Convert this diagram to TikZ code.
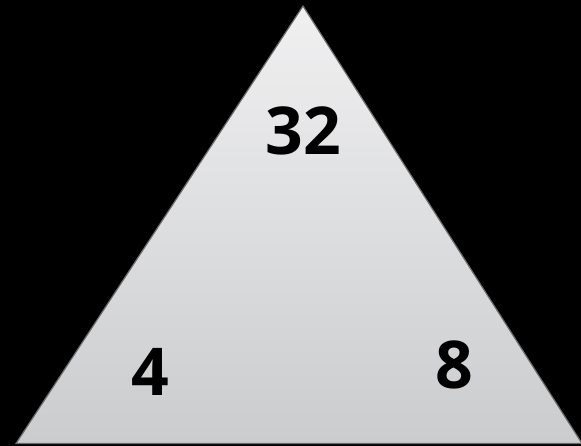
\documentclass[tikz,border=0pt]{standalone}
\usepackage{fontspec}
\setmainfont{Open Sans}
\begin{document}
\begin{tikzpicture}[x=1pt,y=1pt,
  num/.style={font=\bfseries\fontsize{66}{66}\selectfont, text=black, inner sep=0pt, anchor=center}]
  \definecolor{edgegray}{HTML}{6B6B6B}
  \definecolor{topfill}{HTML}{F0F0F1}
  \definecolor{botfill}{HTML}{CBCCCE}
  % black background fixes the page size
  \fill[black] (0,0) rectangle (581,446);
  \useasboundingbox (0,0) rectangle (581,446);
  % the triangle
  \coordinate (apex) at (303,440);
  \coordinate (bl) at (16,2.5);
  \coordinate (br) at (582,2.5);
  \shade[top color=topfill, bottom color=botfill, draw=edgegray, line width=1.2pt, line join=miter]
    (apex) -- (br) -- (bl) -- cycle;
  % the numbers
  \node[num] (top) at (303,315) {32};
  \node[num] (left) at (150,74) {4};
  \node[num] (right) at (454,81) {8};
\end{tikzpicture}
\end{document}
